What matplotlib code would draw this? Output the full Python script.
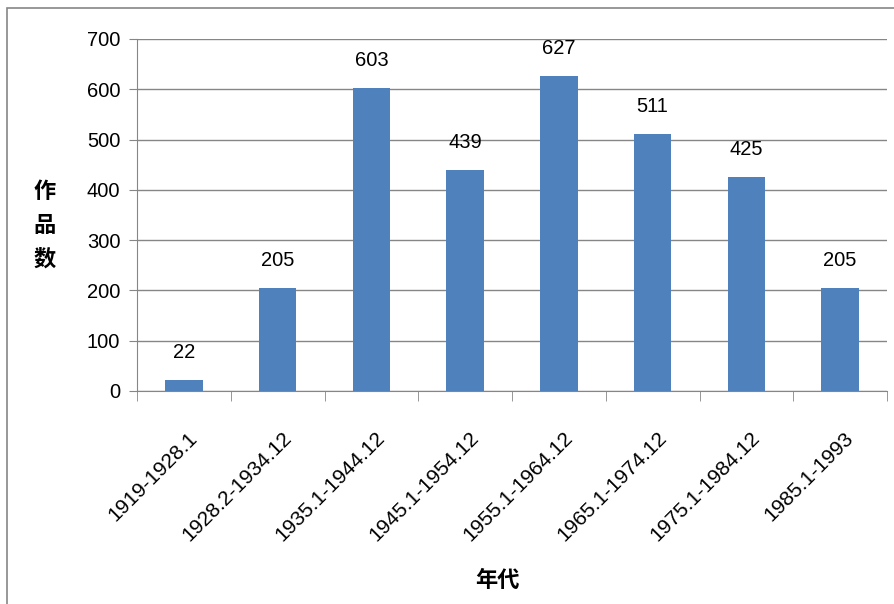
import matplotlib.pyplot as plt
import matplotlib.patches as patches
import matplotlib.transforms as mtransforms
import numpy as np

# données : nombre d'oeuvres par période
periodes = ["1919-1928.1", "1928.2-1934.12", "1935.1-1944.12", "1945.1-1954.12",
            "1955.1-1964.12", "1965.1-1974.12", "1975.1-1984.12", "1985.1-1993"]
oeuvres = [22, 205, 603, 439, 627, 511, 425, 205]
yticks = [0, 100, 200, 300, 400, 500, 600, 700]

plt.rcParams['font.family'] = ['Liberation Sans', 'Noto Sans CJK SC']
cjk = ['Noto Sans CJK SC', 'DejaVu Sans']
gris = '#868686'

fig = plt.figure(figsize=(8.94, 6.04), dpi=100)
ax = fig.add_axes([137/894, 1-391/604, 750/894, 352/604])

x = np.arange(len(periodes))
barres = ax.bar(x, oeuvres, width=0.4, color='#4F81BD', zorder=3)
for xi, v in zip(x, oeuvres):
    ax.annotate(str(v), (xi, v), xytext=(0, 13), textcoords='offset points',
                ha='center', va='bottom', fontsize=14.5)

ax.set_xlim(-0.5, len(periodes) - 0.5)
ax.set_ylim(0, 700)
ax.set_yticks(yticks)
ax.yaxis.grid(True, color=gris, linewidth=1, zorder=0)
ax.tick_params(axis='y', direction='out', length=6, color=gris, labelsize=14.5, pad=6)

# ticks entre les catégories, labels au centre
ax.set_xticks(x)
ax.set_xticks(np.arange(len(periodes) + 1) - 0.5, minor=True)
ax.tick_params(axis='x', which='major', length=0, pad=27)
ax.tick_params(axis='x', which='minor', direction='out', length=7, color=gris)
decal = mtransforms.ScaledTranslation(4/100, 0, fig.dpi_scale_trans)
ax.set_xticklabels(periodes, rotation=45, ha='right', va='top',
                   rotation_mode='anchor', fontsize=15)
for lab in ax.get_xticklabels():
    lab.set_transform(lab.get_transform() + decal)

for s in ['top', 'right']:
    ax.spines[s].set_visible(False)
for s in ['left', 'bottom']:
    ax.spines[s].set_color(gris)

fig.text(45/894, 1-225/604, "作\n品\n数", ha='center', va='center', fontsize=16,
         fontweight='bold', family=cjk, linespacing=1.6)
fig.text(497/894, 1-580/604, "年代", ha='center', va='center', fontsize=16,
         fontweight='bold', family=cjk)

# cadre autour du graphique
fig.patches.append(patches.Rectangle((7/894, -0.01), 1.0, 1-8/604+0.01,
                                     transform=fig.transFigure, fill=False,
                                     edgecolor=gris, linewidth=1.2))

fig.savefig("out.png", dpi=100)
